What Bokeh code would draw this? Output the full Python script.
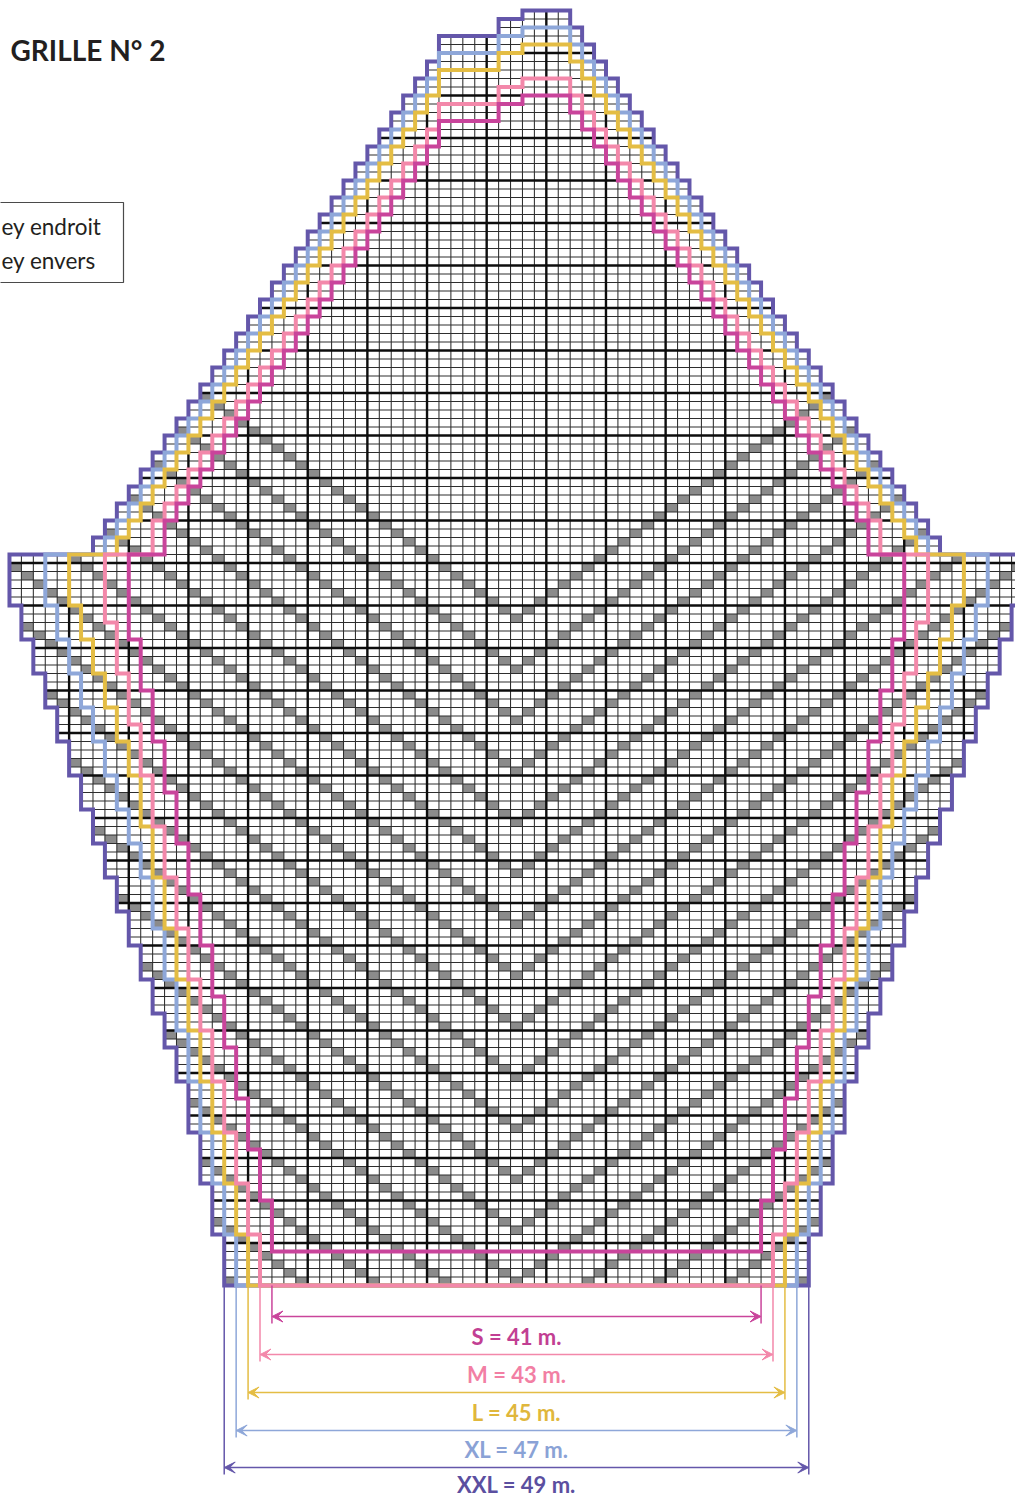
import numpy as np
from bokeh.plotting import figure
from bokeh.models import Range1d, Arrow, VeeHead
from bokeh.embed import file_html
from bokeh.resources import INLINE
from bokeh.core.properties import value

# ---------------- data ----------------
SIZES = ["S", "M", "L", "XL", "XXL"]
STITCHES = [41, 43, 45, 47, 49]          # bottom width (stitches)
LABELS = ["S = 41 m.", "M = 43 m.", "L = 45 m.", "XL = 47 m.", "XXL = 49 m."]
START_ROW = [4, 0, 0, 0, 0]
# rows worked at each width while widening (+2 stitches per step)
INC_ROWS_S = [6, 6, 6, 6, 6, 6, 6, 6, 6, 6, 6, 6, 10]
INC_ROWS_M = [6, 6, 6, 6, 6, 6, 6, 6, 6, 6, 6, 6, 6, 8]
INC_ROWS_L = [6, 6, 6, 6, 6, 6, 6, 6, 6, 6, 4, 4, 4, 4, 4, 6]
INC_ROWS_XL = [6, 6, 6, 6, 6, 6, 6, 6, 4, 4, 4, 4, 4, 4, 4, 4, 6]
INC_ROWS_XXL = [6, 6, 6, 6, 4, 4, 4, 4, 4, 4, 4, 4, 4, 4, 4, 4, 4, 4, 6]
# width just above the wing, then rows at each width while narrowing (-2 per step)
UPPER_WIDTH = [59, 61, 67, 69, 71]
DEC_ROWS_S = [4] + [2, 2, 2, 2, 2, 2, 2, 2, 2, 2, 2, 2, 2, 2, 2, 2, 2, 2, 2, 2, 2, 2, 2]
DEC_ROWS_M = [4] + [2, 2, 2, 2, 2, 2, 2, 2, 2, 2, 2, 2, 2, 2, 2, 2, 2, 2, 2, 2, 2, 2, 2, 2]
DEC_ROWS_L = [2, 2, 2, 2, 2, 2, 2, 2, 2, 2, 2, 2, 2, 2, 2, 2, 2, 2, 2, 2, 2, 2, 2, 2, 2, 2, 2, 2]
DEC_ROWS_XL = [2, 2, 2, 2, 2, 2, 2, 2, 2, 2, 2, 2, 2, 2, 2, 2, 2, 2, 2, 2, 2, 2, 2, 2, 2, 2, 2, 2, 2]
DEC_ROWS_XXL = [2, 2, 2, 2, 2, 2, 2, 2, 2, 2, 2, 2, 2, 2, 2, 2, 2, 2, 2, 2, 2, 2, 2, 2, 2, 2, 2, 2, 2, 2]
# last (asymmetric) rows at the top: left / right edges, in stitches from centre
TOP_LEFT = [-6.5, -1.5, -1.5, 0.5]
TOP_RIGHT = [5.5, 5.5, 4.5, 4.5]
# chevron motif of purl stitches
MOTIF_PERIOD = 6
MOTIF_TOP_ROW = 78

INC_ROWS = [INC_ROWS_S, INC_ROWS_M, INC_ROWS_L, INC_ROWS_XL, INC_ROWS_XXL]
DEC_ROWS = [DEC_ROWS_S, DEC_ROWS_M, DEC_ROWS_L, DEC_ROWS_XL, DEC_ROWS_XXL]

LINE_COLORS = ["#c9449b", "#f388aa", "#e4bd44", "#8ea7d9", "#6457aa"]
TEXT_COLORS = ["#c23f93", "#f27fa4", "#e0b73c", "#8aa2d6", "#5b4fa0"]

# ---------------- geometry helpers (pixel -> data) ----------------
CX, CW = 516.0, 11.93     # centre x, stitch width (px)
BY, RH = 1285.0, 8.5      # bottom y, row height (px)
def px2x(px): return (px - CX) / CW
def py2y(py): return (BY - py) / RH


def extents(k):
    rows = []
    r = START_ROW[k]
    w = STITCHES[k]
    for n in INC_ROWS[k]:
        for _ in range(n):
            rows.append((r, -w / 2, w / 2)); r += 1
        w += 2
    w = UPPER_WIDTH[k]
    for n in DEC_ROWS[k]:
        for _ in range(n):
            rows.append((r, -w / 2, w / 2)); r += 1
        w -= 2
    for l, rt in zip(TOP_LEFT, TOP_RIGHT):
        rows.append((r, l, rt)); r += 1
    return rows


def outline(rows):
    xs, ys = [rows[0][1], rows[0][2]], [rows[0][0], rows[0][0]]
    for j, (r, l, rt) in enumerate(rows):
        xs.append(rt); ys.append(r + 1)
        if j + 1 < len(rows):
            xs.append(rows[j + 1][2]); ys.append(r + 1)
    xs.append(rows[-1][1]); ys.append(rows[-1][0] + 1)
    for j in range(len(rows) - 1, -1, -1):
        r, l, rt = rows[j]
        xs.append(l); ys.append(r)
        if j - 1 >= 0:
            xs.append(rows[j - 1][1]); ys.append(r)
    return xs, ys


W, H = 1015, 1499
p = figure(width=W, height=H, output_backend="svg", toolbar_location=None,
           x_range=Range1d(px2x(0), px2x(W)), y_range=Range1d(py2y(H), py2y(0)),
           x_axis_type=None, y_axis_type=None, min_border=0)
p.grid.visible = False
p.outline_line_color = None
p.background_fill_color = "white"
p.border_fill_color = "white"

big = extents(4)
rowmap = {r: (l, rt) for r, l, rt in big}
rmin, rmax = big[0][0], big[-1][0]

# purl cells
qx0, qx1, qy0, qy1 = [], [], [], []
for r, l, rt in big:
    c = l + 0.5
    while c < rt:
        d = r - abs(c)
        if d <= MOTIF_TOP_ROW and d % MOTIF_PERIOD == 0:
            qx0.append(c - 0.5); qx1.append(c + 0.5); qy0.append(r); qy1.append(r + 1)
        c += 1
p.quad(left=qx0, right=qx1, bottom=qy0, top=qy1, fill_color="#8b8b8b", line_color=None)

# grid lines
thin_x, thin_y, thick_x, thick_y = [], [], [], []
for b in range(rmin, rmax + 2):
    c = [rowmap[r] for r in (b - 1, b) if r in rowmap]
    l = min(v[0] for v in c); rt = max(v[1] for v in c)
    tgt = (thick_x, thick_y) if b % 5 == 0 else (thin_x, thin_y)
    tgt[0].append([l, rt]); tgt[1].append([b, b])
allx = sorted(set([l for _, l, _ in big] + [rt for _, _, rt in big]))
xb = np.arange(min(allx), max(allx) + 0.01, 1.0)
for x in xb:
    seg = None
    for r in range(rmin, rmax + 1):
        l, rt = rowmap[r]
        inside = l - 1e-6 <= x <= rt + 1e-6
        if inside:
            if seg is None:
                seg = [r, r + 1]
            else:
                seg[1] = r + 1
        if (not inside or r == rmax) and seg is not None:
            thick = abs(((x - 2.5) / 5) - round((x - 2.5) / 5)) < 1e-6
            tgt = (thick_x, thick_y) if thick else (thin_x, thin_y)
            tgt[0].append([x, x]); tgt[1].append(seg)
            seg = None
p.multi_line(thin_x, thin_y, line_color="#2e2e2e", line_width=1.05)
p.multi_line(thick_x, thick_y, line_color="#0d0d0d", line_width=2.4)

# size outlines: XXL first, S on top
for k in [4, 3, 2, 1, 0]:
    xs, ys = outline(extents(k))
    p.patch(xs, ys, fill_alpha=0, line_color=LINE_COLORS[k], line_width=4, line_join="miter")

# width dimensions under the chart
ARROW_PY = [1316, 1354, 1392, 1430, 1467]
LABEL_PY = [1336, 1374, 1412, 1449, 1484]
for k in range(5):
    h = STITCHES[k] / 2
    ya = py2y(ARROW_PY[k])
    ye = py2y(ARROW_PY[k] + 7)
    p.segment(x0=[-h, h], y0=[0, 0], x1=[-h, h], y1=[ye, ye],
              line_color=LINE_COLORS[k], line_width=1.5)
    p.add_layout(Arrow(start=VeeHead(size=11, fill_color=LINE_COLORS[k], line_color=LINE_COLORS[k]),
                       end=VeeHead(size=11, fill_color=LINE_COLORS[k], line_color=LINE_COLORS[k]),
                       x_start=-h, y_start=ya, x_end=h, y_end=ya,
                       line_color=LINE_COLORS[k], line_width=1.5))
    p.text(x=[0], y=[py2y(LABEL_PY[k])], text=[LABELS[k]], text_align="center",
           text_baseline="middle", text_font=value("Lato"), text_font_style="bold",
           text_font_size="22px", text_color=TEXT_COLORS[k])

# title and legend
p.text(x=[px2x(10)], y=[py2y(49)], text=["GRILLE N° 2"], text_align="left",
       text_baseline="middle", text_font=value("Lato"), text_font_style="bold",
       text_font_size="28px", text_color="#231f20")
p.quad(left=[px2x(-20)], right=[px2x(123)], bottom=[py2y(282)], top=[py2y(202)],
       fill_color=None, line_color="#4a4a4a", line_width=1.2)
p.text(x=[px2x(1), px2x(1)], y=[py2y(226), py2y(260)], text=["ey endroit", "ey envers"],
       text_align="left", text_baseline="middle", text_font=value("Lato"),
       text_font_size="22.5px", text_color="#231f20")

open("out.html", "w").write(file_html(p, INLINE))
